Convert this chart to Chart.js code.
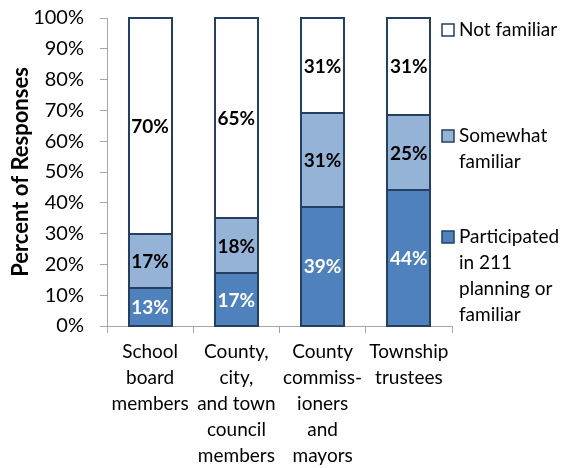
<!DOCTYPE html>
<html>
<head>
<meta charset="utf-8">
<script src="https://cdn.jsdelivr.net/npm/chart.js@4.4.1/dist/chart.umd.min.js"></script>
<style>
  html, body { margin: 0; padding: 0; background: #ffffff; }
  #wrap { width: 564px; height: 468px; }
</style>
</head>
<body>
<div id="wrap"><canvas id="chart" width="564" height="468"></canvas></div>
<script>
// Categories (x axis, wrapped as in the original)
const categories = [
    ['School', 'board', 'members'],
    ['County,', 'city,', 'and town', 'council', 'members'],
    ['County', 'commiss-', 'ioners', 'and', 'mayors'],
    ['Township', 'trustees']
];

// Series values (percent of responses)
const participated = [12.5, 17.1, 38.6, 44.0];
const somewhat = [17.4, 17.9, 30.6, 24.6];
const notFamiliar = [70.1, 65.0, 30.8, 31.4];

const seriesNames = ['Participated in 211 planning or familiar', 'Somewhat familiar', 'Not familiar'];
const legendLines = [
    ['Participated', 'in 211', 'planning or', 'familiar'],
    ['Somewhat', 'familiar'],
    ['Not familiar']
];

const yTicks = [0, 10, 20, 30, 40, 50, 60, 70, 80, 90, 100];

const FONT = "Lato, 'Open Sans', sans-serif";
const BORDER = '#243F60';
const AXIS = '#A6A6A6';
const fills = ['#4F81BD', '#95B3D7', '#FFFFFF'];
const labelColors = ['#FFFFFF', '#000000', '#000000'];

// Outline each segment and write its value in the middle
const segmentLabels = {
    id: 'segmentLabels',
    afterDatasetsDraw(chart) {
        const ctx = chart.ctx;
        ctx.save();
        ctx.strokeStyle = BORDER;
        ctx.lineWidth = 2;
        chart.data.datasets.forEach((ds, i) => {
            chart.getDatasetMeta(i).data.forEach(bar => {
                const half = bar.width / 2;
                const left = Math.round(bar.x - half);
                const right = Math.round(bar.x + half);
                const top = Math.round(Math.min(bar.y, bar.base));
                const bottom = Math.round(Math.max(bar.y, bar.base));
                ctx.strokeRect(left, top, right - left, bottom - top);
            });
        });
        ctx.font = 'bold 19px ' + FONT;
        ctx.textAlign = 'center';
        ctx.textBaseline = 'middle';
        chart.data.datasets.forEach((ds, i) => {
            chart.getDatasetMeta(i).data.forEach((bar, j) => {
                ctx.fillStyle = labelColors[i];
                const y = (bar.y + bar.base) / 2;
                ctx.fillText(Math.round(ds.data[j]) + '%', bar.x, y + 1);
            });
        });
        ctx.restore();
    }
};

// Right-hand legend with wrapped labels
const sideLegend = {
    id: 'sideLegend',
    afterDraw(chart) {
        const ctx = chart.ctx;
        const area = chart.chartArea;
        const boxX = area.right - 10;
        const tops = [area.top + 219, area.top + 118, area.top + 12];
        ctx.save();
        ctx.font = '19px ' + FONT;
        ctx.textBaseline = 'middle';
        ctx.textAlign = 'left';
        for (let i = 0; i < legendLines.length; i++) {
            const y0 = tops[i];
            ctx.fillStyle = fills[i];
            ctx.fillRect(boxX, y0 - 6, 12, 12);
            ctx.strokeStyle = BORDER;
            ctx.lineWidth = 1.5;
            ctx.strokeRect(boxX, y0 - 6, 12, 12);
            ctx.fillStyle = '#000000';
            legendLines[i].forEach((line, k) => {
                ctx.fillText(line, boxX + 17, y0 + k * 26);
            });
        }
        ctx.restore();
    }
};

const datasets = [participated, somewhat, notFamiliar].map((data, i) => ({
    label: seriesNames[i],
    data: data,
    backgroundColor: fills[i],
    borderWidth: 0,
    barPercentage: 0.5,
    categoryPercentage: 1.0
}));

new Chart(document.getElementById('chart'), {
    type: 'bar',
    data: { labels: categories, datasets: datasets },
    options: {
        responsive: false,
        animation: false,
        layout: { padding: { top: 18, right: 112, left: 0, bottom: 0 } },
        plugins: {
            legend: { display: false },
            tooltip: { enabled: false }
        },
        scales: {
            x: {
                stacked: true,
                offset: true,
                afterFit(scale) { scale.height = 142; },
                border: { color: AXIS, width: 1 },
                grid: { offset: true, drawOnChartArea: false, drawTicks: true, tickLength: 7, color: AXIS },
                ticks: {
                    color: '#000000',
                    padding: 6,
                    maxRotation: 0,
                    autoSkip: false,
                    font: { family: FONT, size: 19, lineHeight: 1.37 }
                }
            },
            y: {
                stacked: true,
                min: 0,
                max: 100,
                afterBuildTicks(scale) {
                    scale.ticks = yTicks.map(v => ({ value: v }));
                },
                afterFit(scale) {
                    scale.width = 107;
                    scale.paddingTop = 0;
                },
                border: { color: AXIS, width: 1 },
                grid: { drawOnChartArea: false, drawTicks: true, tickLength: 7, color: AXIS },
                ticks: {
                    color: '#000000',
                    padding: 16,
                    font: { family: FONT, size: 20 },
                    callback: v => v + '%'
                },
                title: {
                    display: true,
                    text: 'Percent of Responses',
                    color: '#000000',
                    font: { family: FONT, size: 22, weight: 'bold' },
                    padding: { top: 8, bottom: 0 }
                }
            }
        }
    },
    plugins: [segmentLabels, sideLegend]
});
</script>
</body>
</html>
